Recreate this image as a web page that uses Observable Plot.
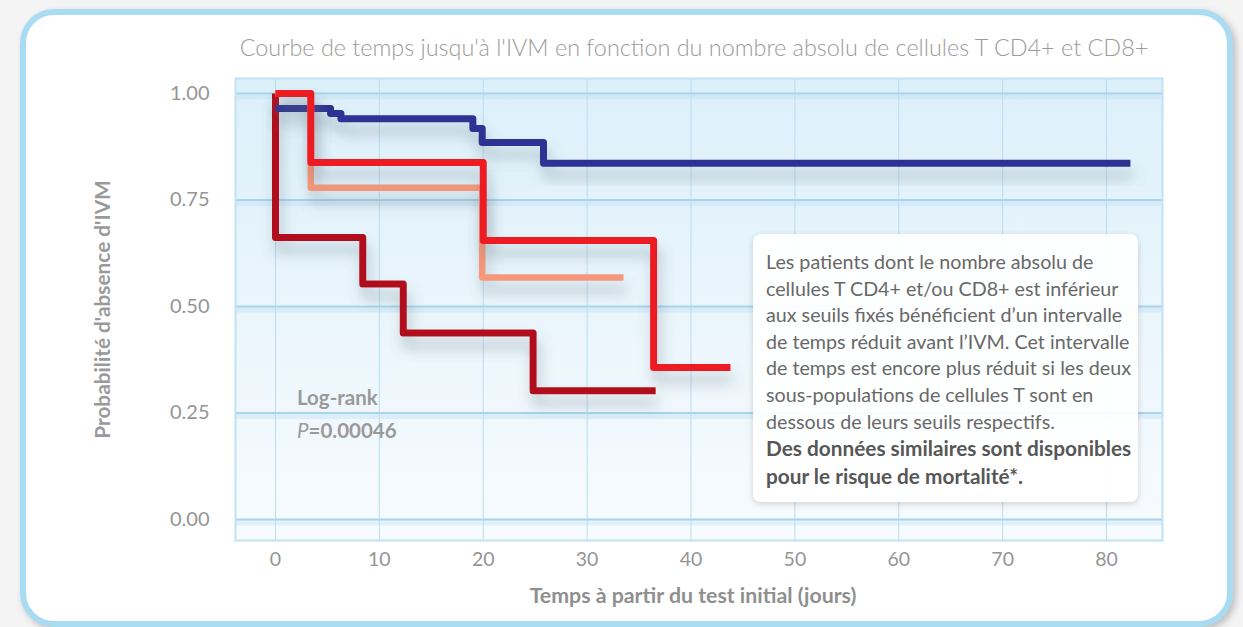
<!DOCTYPE html>
<html><head><meta charset="utf-8">
<script src="https://cdn.jsdelivr.net/npm/d3@7"></script>
<script src="https://cdn.jsdelivr.net/npm/@observablehq/plot@0.6"></script>
<style>
html,body{margin:0;padding:0;background:#f4f4f4;}
#page{position:relative;width:1243px;height:627px;overflow:hidden;font-family:Lato,"Open Sans",sans-serif;}
#card{position:absolute;left:20px;top:9px;width:1201px;height:606px;border:6px solid #a9dcf3;border-radius:34px;background:#fff;box-shadow:3px 3px 7px rgba(0,0,0,0.22);}
#title{position:absolute;left:150px;width:1088px;top:32px;text-align:center;font-size:23.4px;font-weight:300;color:#9b9b9b;line-height:30px;white-space:nowrap;}
#chart{position:absolute;left:0;top:70px;}
#note{position:absolute;left:753px;top:234px;width:385px;height:268px;box-sizing:border-box;padding:15px 0 0 13px;background:rgba(255,255,255,0.93);border-radius:8px;box-shadow:0 2px 6px rgba(0,0,0,0.16);font-size:19.7px;line-height:26.6px;color:#686868;white-space:nowrap;}
#note b{color:#575757;font-size:20.8px;}
#logrank{position:absolute;left:297px;top:381px;font-size:20.5px;line-height:33px;color:#9a9a9a;font-weight:bold;}
#logrank i{font-weight:normal;}
</style></head>
<body>
<div id="page">
  <div id="card"></div>
  <div id="title"></div>
  <div id="chart"></div>
  <div id="logrank"></div>
  <div id="note"></div>
</div>
<script>
// ---- data ----
const titleText = "Courbe de temps jusqu'à l'IVM en fonction du nombre absolu de cellules T CD4+ et CD8+";
const xLabel = "Temps à partir du test initial (jours)";
const yLabel = "Probabilité d'absence d'IVM";
const xTicks = [0, 10, 20, 30, 40, 50, 60, 70, 80];
const yTicks = [0, 0.25, 0.5, 0.75, 1];

// Kaplan-Meier step points (time in days, survival probability)
const blueT = [0, 5.3, 6.3, 19.0, 19.9, 25.8, 82.3];
const blueS = [0.965, 0.953, 0.941, 0.918, 0.885, 0.836, 0.836];
const salmonT = [0, 3.4, 19.9, 33.5];
const salmonS = [1.0, 0.779, 0.568, 0.568];
const redT = [0, 3.4, 20.0, 36.4, 43.8];
const redS = [1.0, 0.838, 0.655, 0.357, 0.357];
const darkT = [0, 0, 8.4, 12.3, 24.8, 36.6];
const darkS = [1.0, 0.662, 0.553, 0.438, 0.302, 0.302];

const logRankLines = ["Log-rank", "=0.00046"];
const noteLines = [
  "Les patients dont le nombre absolu de",
  "cellules T CD4+ et/ou CD8+ est inférieur",
  "aux seuils fixés bénéficient d’un intervalle",
  "de temps réduit avant l’IVM. Cet intervalle",
  "de temps est encore plus réduit si les deux",
  "sous-populations de cellules T sont en",
  "dessous de leurs seuils respectifs."
];
const noteBold = [
  "Des données similaires sont disponibles",
  "pour le risque de mortalité*."
];

const toPts = (T, S) => T.map((t, i) => ({t, s: S[i]}));

document.getElementById("title").textContent = titleText;
document.getElementById("logrank").innerHTML = logRankLines[0] + "<br><i>P</i>" + logRankLines[1];
document.getElementById("note").innerHTML = noteLines.join("<br>") + "<br><b>" + noteBold.join("<br>") + "</b>";

const lineOpts = {x: "t", y: "s", curve: "step-after", strokeWidth: 7, strokeLinejoin: "round", strokeLinecap: "butt"};

const plot = Plot.plot({
  width: 1243,
  height: 550,
  marginLeft: 235,
  marginRight: 81,
  marginTop: 8,
  marginBottom: 80,
  style: {background: "transparent", fontFamily: "Lato, 'Open Sans', sans-serif", overflow: "visible"},
  x: {domain: [-3.85, 85.39]},
  y: {domain: [-0.0493, 1.0352]},
  marks: [
    Plot.frame({fill: "#e6f3fb", stroke: "none"}),
    Plot.gridX(xTicks, {stroke: "#b8ddf1", strokeOpacity: 1, strokeWidth: 1}),
    Plot.gridY(yTicks, {stroke: "#b8def2", strokeOpacity: 0.35, strokeWidth: 6, dy: 3}),
    Plot.gridY(yTicks, {stroke: "#a7d5ee", strokeOpacity: 1, strokeWidth: 2}),
    Plot.frame({stroke: "#bfe2f4", strokeWidth: 2}),
    Plot.axisX(xTicks, {tickSize: 0, tickPadding: 12, fontSize: 19.5, fill: "#959595", label: null}),
    Plot.axisY(yTicks, {tickSize: 0, tickPadding: 26, fontSize: 20, fill: "#959595", tickFormat: d3.format(".2f"), label: null}),
    Plot.text([yLabel], {frameAnchor: "left", textAnchor: "middle", dx: -132, rotate: -90, text: d => d, fontSize: 20.8, fontWeight: "bold", fill: "#9a9a9a"}),
    Plot.text([xLabel], {frameAnchor: "bottom", textAnchor: "middle", dx: -6, dy: 62, text: d => d, fontSize: 21.3, fontWeight: "bold", fill: "#8f8f8f"}),
    Plot.line(toPts(darkT, darkS), {...lineOpts, stroke: "#b10f1a"}),
    Plot.line(toPts(blueT, blueS), {...lineOpts, stroke: "#2e3192"}),
    Plot.line(toPts(salmonT, salmonS), {...lineOpts, stroke: "#f4977a", strokeWidth: 6.5}),
    Plot.line(toPts(redT, redS), {...lineOpts, stroke: "#ed1c24"})
  ]
});
document.getElementById("chart").appendChild(plot);

// decorative defs: background gradient + line shadow
const svg = d3.select(plot);
const defs = svg.insert("defs", ":first-child");
const grad = defs.append("linearGradient").attr("id", "bgGrad").attr("x1", 0).attr("y1", 0).attr("x2", 0).attr("y2", 1);
grad.append("stop").attr("offset", "0%").attr("stop-color", "#dcf0fa");
grad.append("stop").attr("offset", "100%").attr("stop-color", "#f8fbfe");
const f = defs.append("filter").attr("id", "shadow").attr("x", "-10%").attr("y", "-20%").attr("width", "130%").attr("height", "160%");
f.append("feDropShadow").attr("dx", 3).attr("dy", 12).attr("stdDeviation", 7).attr("flood-color", "#5b6b78").attr("flood-opacity", 0.38);
const frames = svg.selectAll('[aria-label="frame"]');
const first = frames.nodes()[0];
if (first) {
  d3.select(first).attr("fill", "url(#bgGrad)");
  d3.select(first).selectAll("rect").attr("fill", "url(#bgGrad)");
}
svg.selectAll('g[aria-label="line"]').attr("filter", "url(#shadow)");
</script>
</body></html>
